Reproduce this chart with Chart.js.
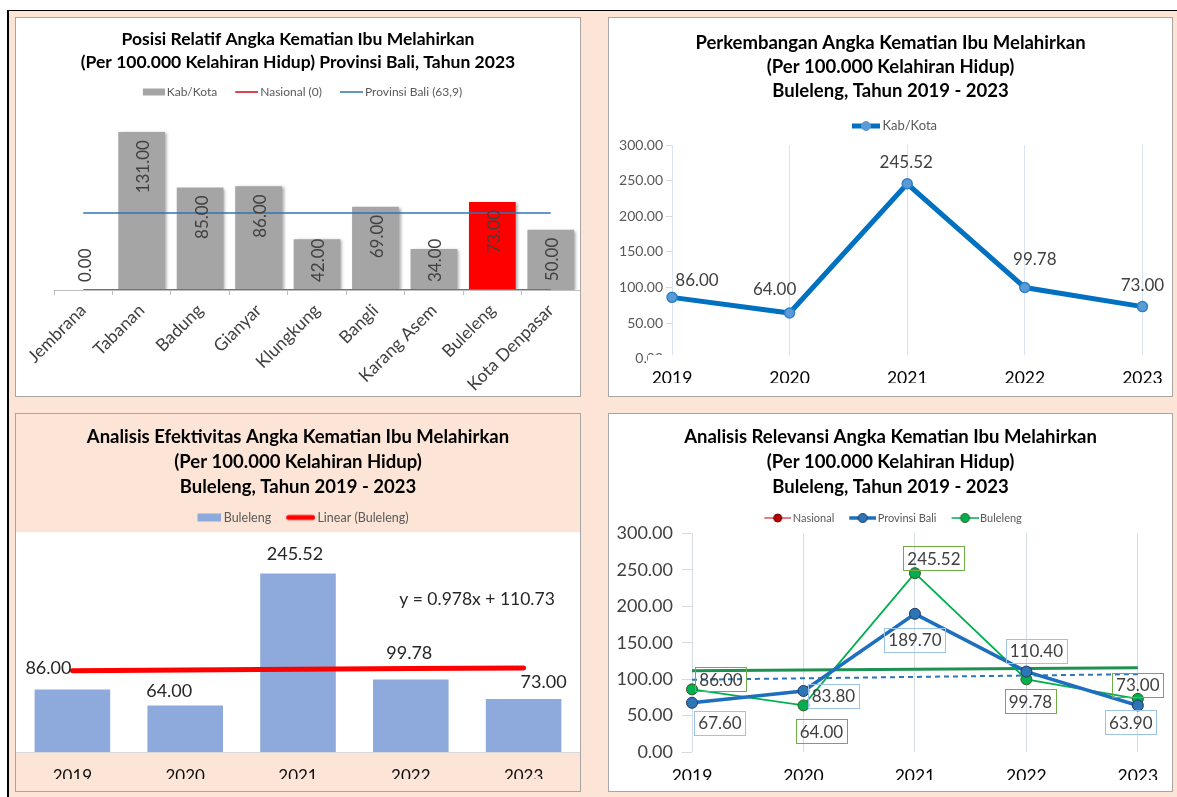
<!DOCTYPE html>
<html>
<head>
<meta charset="utf-8">
<script src="https://cdn.jsdelivr.net/npm/chart.js@4.4.0/dist/chart.umd.min.js"></script>
<style>
  html, body { margin: 0; padding: 0; background: #fff; }
  body { width: 1177px; height: 797px; position: relative; overflow: hidden; }
  .bingkai { position: absolute; left: 7px; top: 10px; right: 0; bottom: 0; background: #FCE4D6; border-left: 2px solid #000; border-top: 1px solid #000; }
  .panel { position: absolute; border: 1px solid #A6A6A6; background: #fff; overflow: hidden; }
  .potong { position: absolute; left: 0; top: 0; overflow: hidden; }
  canvas { display: block; }
</style>
</head>
<body>
<div class="bingkai"></div>

<div class="panel" style="left:15px; top:17px; width:564px; height:378px;">
  <canvas id="posisiRelatif" width="564" height="378"></canvas>
</div>
<div class="panel" style="left:608px; top:17px; width:563px; height:378px;">
  <div class="potong" style="width:563px; height:365px;">
    <canvas id="perkembangan" width="563" height="378"></canvas>
  </div>
</div>
<div class="panel" style="left:15px; top:413px; width:564px; height:377px; background:#FCE4D6;">
  <div class="potong" style="width:564px; height:365px;">
    <canvas id="efektivitas" width="564" height="377"></canvas>
  </div>
</div>
<div class="panel" style="left:608px; top:413px; width:563px; height:377px;">
  <div class="potong" style="width:563px; height:366px;">
    <canvas id="relevansi" width="563" height="377"></canvas>
  </div>
</div>

<script>
// ---------- data ----------
const kabKota = ['Jembrana', 'Tabanan', 'Badung', 'Gianyar', 'Klungkung', 'Bangli', 'Karang Asem', 'Buleleng', 'Kota Denpasar'];
const akiKabKota2023 = [0, 131, 85, 86, 42, 69, 34, 73, 50];
const akiNasional2023 = [0, 0, 0, 0, 0, 0, 0, 0, 0];
const akiProvBali2023 = [63.9, 63.9, 63.9, 63.9, 63.9, 63.9, 63.9, 63.9, 63.9];

const tahun = ['2019', '2020', '2021', '2022', '2023'];
const akiBuleleng = [86.00, 64.00, 245.52, 99.78, 73.00];
const akiProvBali = [67.60, 83.80, 189.70, 110.40, 63.90];
const akiNasional = [null, null, null, null, null];

Chart.defaults.font.family = 'Lato';
Chart.defaults.animation = false;

// garis tren linear (kuadrat terkecil), x = 1..n seperti di Excel
function trenLinear(values) {
    const n = values.length;
    let sx = 0, sy = 0, sxy = 0, sxx = 0;
    values.forEach((v, i) => { const x = i + 1; sx += x; sy += v; sxy += x * v; sxx += x * x; });
    const slope = (n * sxy - sx * sy) / (n * sxx - sx * sx);
    const intercept = (sy - slope * sx) / n;
    return { slope, intercept, points: values.map((v, i) => intercept + slope * (i + 1)) };
}

// ---------- simbol legenda ----------
function simbol(w, draw) {
    const c = document.createElement('canvas');
    c.width = w; c.height = 14;
    draw(c.getContext('2d'), w, 7);
    return c;
}
function simbolKotak(w, s, h, color) {
    return simbol(w, (g, W, cy) => { g.fillStyle = color; g.fillRect(W - s, cy - h / 2, s, h); });
}
function simbolGaris(w, s, lw, color, marker, cap) {
    return simbol(w, (g, W, cy) => {
        g.strokeStyle = color; g.lineWidth = lw; g.lineCap = cap || 'butt';
        g.beginPath(); g.moveTo(W - s + (cap ? lw / 2 : 0), cy); g.lineTo(W - (cap ? lw / 2 : 0), cy); g.stroke();
        if (marker) {
            g.beginPath(); g.arc(W - s / 2, cy, marker.r, 0, Math.PI * 2);
            g.fillStyle = marker.fill; g.fill();
            g.lineWidth = 1; g.strokeStyle = marker.border; g.stroke();
        }
    });
}

function legenda(size, boxW, symbols) {
    return {
        display: true,
        labels: {
            usePointStyle: true,
            pointStyleWidth: boxW,
            padding: 10,
            color: '#595959',
            font: { size: size },
            generateLabels(chart) {
                const items = Chart.defaults.plugins.legend.labels.generateLabels(chart);
                return items
                    .filter(it => symbols[it.datasetIndex])
                    .sort((a, b) => a.datasetIndex - b.datasetIndex)
                    .map(it => Object.assign(it, { pointStyle: symbols[it.datasetIndex] }));
            }
        }
    };
}

function judul(lines, size, spacing, top, bottom) {
    return { display: true, text: lines, color: '#000', font: { size: size, weight: 'bold', lineHeight: spacing / size }, padding: { top: top, bottom: bottom } };
}

// sumbu kosong hanya untuk mengatur ruang
function pengisi(pos, size) {
    return {
        type: 'linear', position: pos, display: true,
        grid: { display: false, drawTicks: false }, border: { display: false }, ticks: { display: false },
        afterFit(s) { if (s.isHorizontal()) s.height = size; else s.width = size; }
    };
}

// label nilai di dekat titik/batang
function labelNilai(items) {
    return {
        id: 'labelNilai',
        afterDatasetsDraw(chart) {
            const ctx = chart.ctx;
            items.forEach(item => {
                const meta = chart.getDatasetMeta(item.dataset);
                const values = chart.data.datasets[item.dataset].data;
                ctx.save();
                ctx.font = item.size + 'px Lato';
                ctx.fillStyle = item.color;
                ctx.textAlign = 'center';
                ctx.textBaseline = 'middle';
                meta.data.forEach((el, i) => {
                    if (values[i] == null) return;
                    const text = values[i].toFixed(2);
                    const x = el.x + item.offsets[i][0];
                    const y = el.y + item.offsets[i][1];
                    if (item.box) {
                        const w = ctx.measureText(text).width + 8;
                        ctx.strokeStyle = item.box;
                        ctx.lineWidth = 1;
                        ctx.strokeRect(Math.round(x - w / 2) + 0.5, Math.round(y - 12) + 0.5, Math.round(w), 24);
                    }
                    ctx.fillText(text, x, y + 1);
                });
                ctx.restore();
            });
        }
    };
}

// ---------- 1. Posisi relatif ----------
const bayanganBatang = {
    id: 'bayanganBatang',
    beforeDatasetDraw(chart, args) {
        if (args.meta.type !== 'bar') return;
        const c = chart.ctx;
        c.save();
        c.shadowColor = 'rgba(0,0,0,0.35)'; c.shadowBlur = 3; c.shadowOffsetX = 2; c.shadowOffsetY = 1;
    },
    afterDatasetDraw(chart, args) {
        if (args.meta.type !== 'bar') return;
        chart.ctx.restore();
    }
};
const labelTegak = {
    id: 'labelTegak',
    afterDatasetsDraw(chart) {
        const ctx = chart.ctx;
        const meta = chart.getDatasetMeta(0);
        ctx.save();
        ctx.font = '17px Lato';
        ctx.fillStyle = '#404040';
        ctx.textAlign = 'left';
        ctx.textBaseline = 'middle';
        meta.data.forEach((bar, i) => {
            const text = akiKabKota2023[i].toFixed(2);
            const w = ctx.measureText(text).width;
            const top = Math.min(bar.y + 8, bar.base - 8 - w);
            ctx.save();
            ctx.translate(bar.x + 2, top + w);
            ctx.rotate(-Math.PI / 2);
            ctx.fillText(text, 0, 0);
            ctx.restore();
        });
        ctx.restore();
    }
};

new Chart(document.getElementById('posisiRelatif'), {
    type: 'bar',
    data: {
        labels: kabKota,
        datasets: [
            { label: 'Kab/Kota', data: akiKabKota2023, order: 2,
              backgroundColor: kabKota.map(k => k === 'Buleleng' ? '#FF0000' : '#A5A5A5'),
              categoryPercentage: 1, barPercentage: 0.8 },
            { type: 'line', label: 'Nasional (0)', data: akiNasional2023, order: 1,
              borderColor: '#E0404F', borderWidth: 2, pointRadius: 0 },
            { type: 'line', label: 'Provinsi Bali (63,9)', data: akiProvBali2023, order: 1,
              borderColor: '#2E75B6', borderWidth: 1.5, pointRadius: 0 }
        ]
    },
    options: {
        responsive: false,
        devicePixelRatio: 1,
        plugins: {
            title: judul(['Posisi Relatif Angka Kematian Ibu Melahirkan', '(Per 100.000 Kelahiran Hidup) Provinsi Bali, Tahun 2023'], 17.5, 23, 9.5, 2.5),
            legend: legenda(12, 27, [
                simbolKotak(35, 22, 7, '#A5A5A5'),
                simbolGaris(35, 23, 2, '#E0404F'),
                simbolGaris(35, 23, 1.5, '#2E75B6')
            ]),
            tooltip: { enabled: false }
        },
        scales: {
            x: {
                offset: true,
                grid: { display: true, offset: true, drawOnChartArea: false, drawTicks: true, tickLength: 5, color: '#BFBFBF' },
                border: { display: true, color: '#BFBFBF' },
                ticks: { autoSkip: false, maxRotation: 45, minRotation: 45, padding: 5, labelOffset: 0, color: '#404040', font: { size: 17.5 } },
                afterFit(s) { s.height = 106; }
            },
            y: {
                min: 0, max: 140,
                grid: { display: false, drawTicks: false }, border: { display: false }, ticks: { display: false },
                afterFit(s) { s.width = 38; }
            },
            atas: pengisi('top', 13.2)
        }
    },
    plugins: [bayanganBatang, labelTegak]
});

// ---------- 2. Perkembangan ----------
// kotak putih sumbu-x yang menutupi ujung bawah grid (seperti di gambar asli)
const tutupBawah = {
    id: 'tutupBawah',
    beforeDatasetsDraw(chart) {
        const { ctx, chartArea: a } = chart;
        ctx.save();
        ctx.fillStyle = '#fff';
        ctx.fillRect(a.left - 24, a.bottom - 3.6, chart.width, chart.height);
        ctx.restore();
    }
};

new Chart(document.getElementById('perkembangan'), {
    type: 'line',
    data: {
        labels: tahun,
        datasets: [
            { label: 'Kab/Kota', data: akiBuleleng, borderColor: '#0070C0', borderWidth: 5,
              pointRadius: 5, pointBackgroundColor: '#5B9BD5', pointBorderColor: '#2F80C8', pointBorderWidth: 1.5, tension: 0 }
        ]
    },
    options: {
        responsive: false,
        devicePixelRatio: 1,
        plugins: {
            title: judul(['Perkembangan Angka Kematian Ibu Melahirkan', '(Per 100.000 Kelahiran Hidup)', 'Buleleng, Tahun 2019 - 2023'], 18.5, 24, 13, 6.5),
            legend: legenda(13, 32, [
                simbolGaris(40, 28, 5, '#0070C0', { r: 4.5, fill: '#5B9BD5', border: '#5B9BD5' })
            ]),
            tooltip: { enabled: false }
        },
        scales: {
            x: {
                offset: false,
                grid: { display: true, drawOnChartArea: true, drawTicks: false, color: '#DAE3F3' },
                border: { display: false },
                ticks: { padding: 9.25, color: '#000', font: { size: 17.5 }, z: 1 },
                afterFit(s) { s.height = 37.4; }
            },
            y: {
                min: 0, max: 300,
                grid: { display: true, drawOnChartArea: false, drawTicks: true, tickLength: 6, color: '#D9D9D9' },
                border: { display: false },
                ticks: { stepSize: 50, padding: 3, color: '#595959', font: { size: 14 }, callback: v => v.toFixed(2) },
                afterFit(s) { s.width = 63; }
            },
            atas: pengisi('top', 2.5),
            kanan: pengisi('right', 26)
        }
    },
    plugins: [tutupBawah, labelNilai([
        { dataset: 0, size: 17, color: '#404040', offsets: [[25, -18], [-15, -25], [-1, -22], [10, -29], [0, -22]] }
    ])]
});

// ---------- 3. Efektivitas ----------
const trenBuleleng = trenLinear(akiBuleleng);
const areaPutih = {
    id: 'areaPutih',
    beforeDraw(chart) {
        const { ctx, chartArea: a } = chart;
        ctx.save();
        ctx.fillStyle = '#fff';
        ctx.fillRect(a.left, a.top - 1.5, a.right - a.left, a.bottom - a.top + 1.5);
        ctx.restore();
    }
};
const persamaanTren = {
    id: 'persamaanTren',
    afterDatasetsDraw(chart) {
        const ctx = chart.ctx;
        const text = 'y = ' + trenBuleleng.slope.toFixed(3) + 'x + ' + trenBuleleng.intercept.toFixed(2);
        ctx.save();
        ctx.font = '17.5px Lato';
        ctx.fillStyle = '#262626';
        ctx.textAlign = 'center';
        ctx.textBaseline = 'middle';
        ctx.fillText(text, chart.scales.x.getPixelForValue(3.587), chart.scales.y.getPixelForValue(210));
        ctx.restore();
    }
};

new Chart(document.getElementById('efektivitas'), {
    type: 'bar',
    data: {
        labels: tahun,
        datasets: [
            { label: 'Buleleng', data: akiBuleleng, order: 2, backgroundColor: '#8EA9DB',
              categoryPercentage: 1, barPercentage: 0.67 },
            { type: 'line', label: 'Linear (Buleleng)', data: trenBuleleng.points, order: 1,
              borderColor: '#FF0000', borderWidth: 5, borderCapStyle: 'round', pointRadius: 0 }
        ]
    },
    options: {
        responsive: false,
        devicePixelRatio: 1,
        plugins: {
            title: judul(['Analisis Efektivitas Angka Kematian Ibu Melahirkan', '(Per 100.000 Kelahiran Hidup)', 'Buleleng, Tahun 2019 - 2023'], 18.5, 25, 10.5, 1.75),
            legend: legenda(12.5, 30, [
                simbolKotak(38, 24, 8, '#8EA9DB'),
                simbolGaris(38, 29, 5, '#FF0000', null, 'round')
            ]),
            tooltip: { enabled: false }
        },
        scales: {
            x: {
                offset: true,
                grid: { display: false, drawTicks: false },
                border: { display: true, color: '#D9D9D9' },
                ticks: { padding: 13.95, color: '#0d0d0d', font: { size: 17 } },
                afterFit(s) { s.height = 39; }
            },
            y: { display: false, min: 0, max: 300 }
        }
    },
    plugins: [areaPutih, persamaanTren, labelNilai([
        { dataset: 0, size: 18, color: '#262626', offsets: [[-24, -22], [-16, -15], [-3, -20], [-1.5, -27], [20, -18]] }
    ])]
});

// ---------- 4. Relevansi ----------
const trenBali = trenLinear(akiProvBali);
new Chart(document.getElementById('relevansi'), {
    type: 'line',
    data: {
        labels: tahun,
        datasets: [
            { label: 'Nasional', data: akiNasional, borderColor: '#C00000', borderWidth: 1,
              pointRadius: 5, pointBackgroundColor: '#C00000', pointBorderColor: '#600000' },
            { label: 'Provinsi Bali', data: akiProvBali, borderColor: '#1F6FBF', borderWidth: 3.5,
              pointRadius: 5.5, pointBackgroundColor: '#2E75B6', pointBorderColor: '#1F3864', pointBorderWidth: 1 },
            { label: 'Buleleng', data: akiBuleleng, borderColor: '#00B050', borderWidth: 1.8,
              pointRadius: 5.5, pointBackgroundColor: '#00B050', pointBorderColor: '#375623', pointBorderWidth: 1 },
            { label: 'Linear (Provinsi Bali)', data: trenBali.points, borderColor: '#2E75B6', borderWidth: 2,
              borderDash: [5, 4], pointRadius: 0 },
            { label: 'Linear (Buleleng)', data: trenBuleleng.points, borderColor: '#1E9150', borderWidth: 3,
              pointRadius: 0 }
        ]
    },
    options: {
        responsive: false,
        devicePixelRatio: 1,
        plugins: {
            title: judul(['Analisis Relevansi Angka Kematian Ibu Melahirkan', '(Per 100.000 Kelahiran Hidup)', 'Buleleng, Tahun 2019 - 2023'], 18.5, 25, 10.5, 3),
            legend: legenda(11, 28, [
                simbolGaris(36, 27, 1, '#C00000', { r: 4, fill: '#C00000', border: '#600000' }),
                simbolGaris(36, 27, 3.5, '#1F6FBF', { r: 4.5, fill: '#2E75B6', border: '#1F3864' }),
                simbolGaris(36, 27, 1.5, '#00B050', { r: 4.5, fill: '#00B050', border: '#375623' })
            ]),
            tooltip: { enabled: false }
        },
        scales: {
            x: {
                offset: false,
                grid: { display: true, drawOnChartArea: true, drawTicks: false, color: '#D6DCE4' },
                border: { display: false },
                ticks: { padding: 13.85, color: '#000', font: { size: 17.5 } },
                afterFit(s) { s.height = 39; }
            },
            y: {
                min: 0, max: 300,
                grid: { display: true, drawOnChartArea: false, drawTicks: true, tickLength: 10, color: '#D9D9D9' },
                border: { display: false },
                ticks: { stepSize: 50, padding: 9, color: '#404040', font: { size: 18 }, callback: v => v.toFixed(2) },
                afterFit(s) { s.width = 83; }
            },
            kanan: pengisi('right', 26)
        }
    },
    plugins: [labelNilai([
        { dataset: 2, size: 17, color: '#404040', box: '#70AD47', offsets: [[29, -10], [18, 26], [19, -15], [4, 22], [0, -14]] },
        { dataset: 1, size: 17, color: '#404040', box: '#9DC3E6', offsets: [[28, 20], [30, 5], [0, 26], [10, -21], [-7, 17]] }
    ])]
});
</script>
</body>
</html>
